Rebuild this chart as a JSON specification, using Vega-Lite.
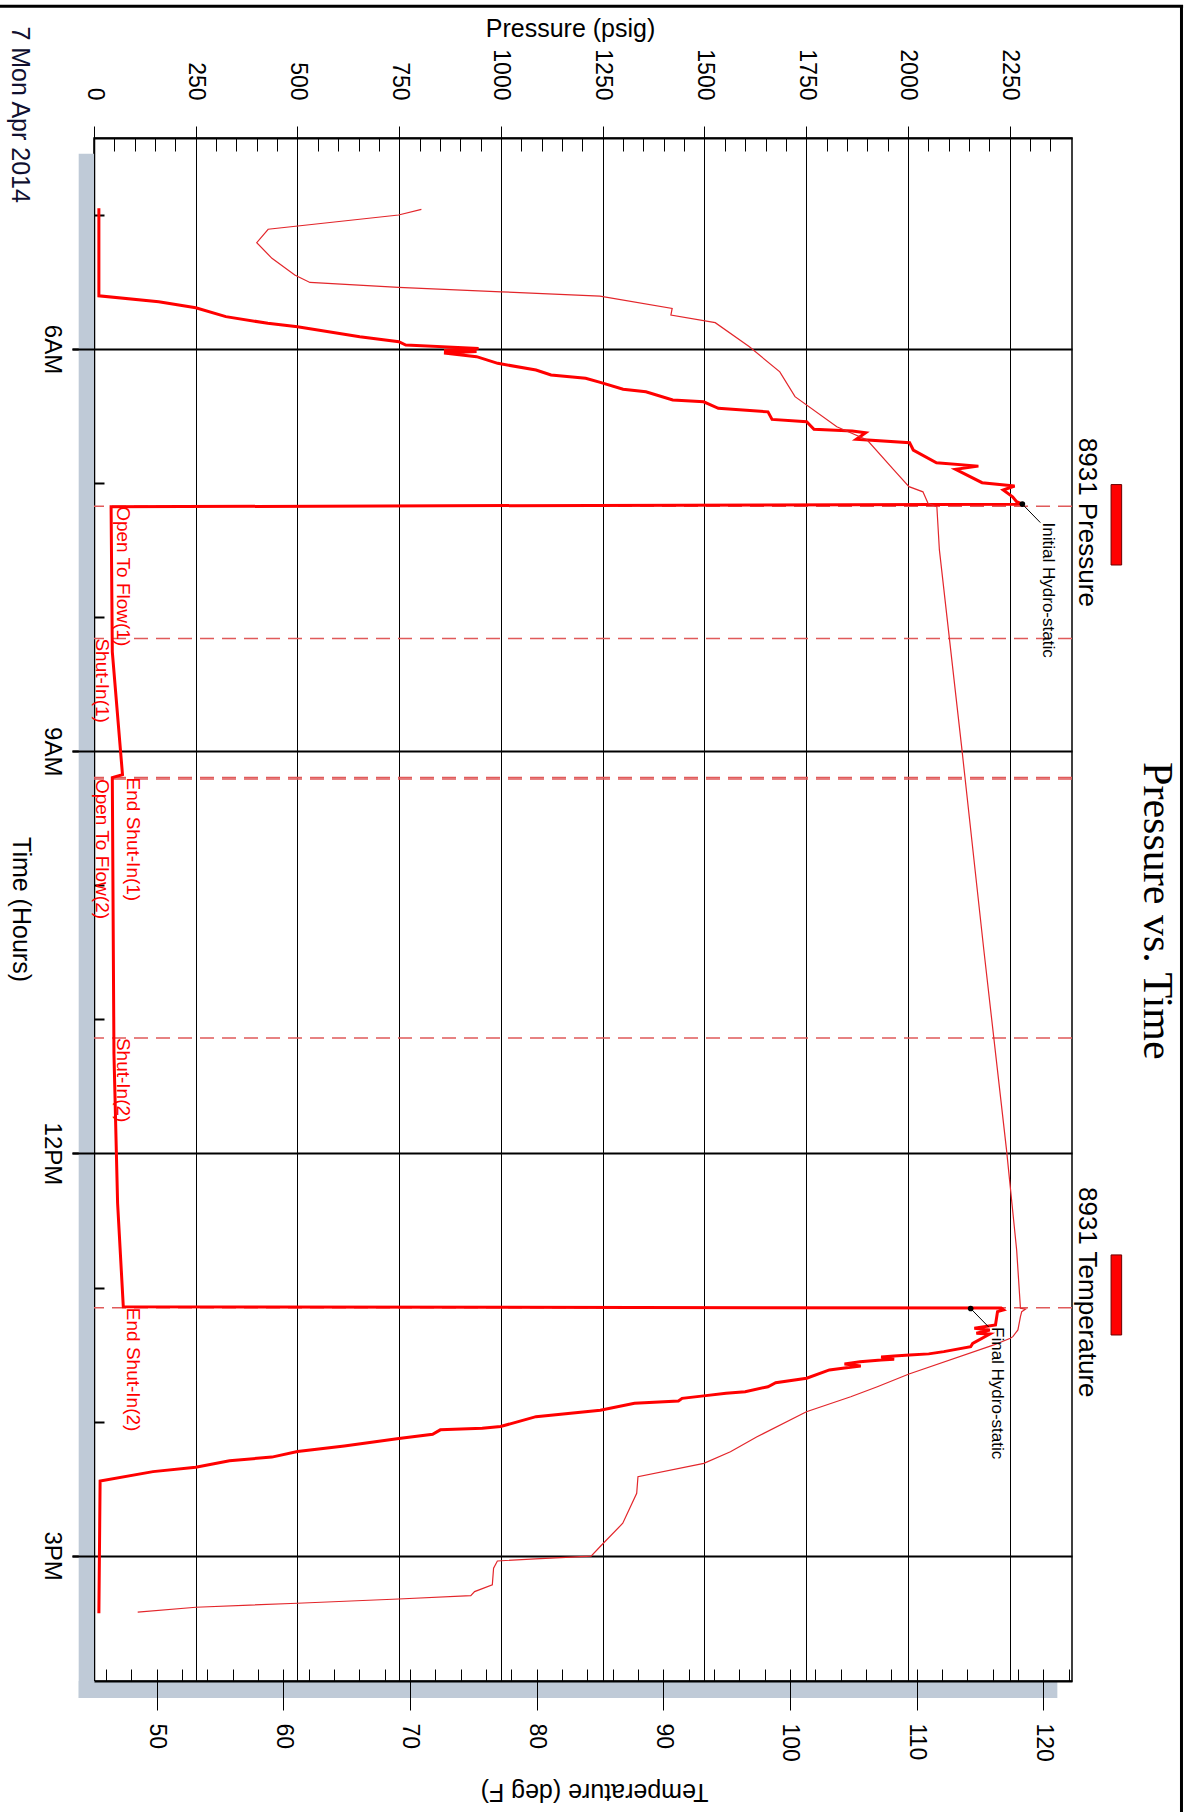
{
  "$schema": "https://vega.github.io/schema/vega-lite/v6.json",
  "width": 978,
  "height": 1543,
  "autosize": {"type": "none"},
  "padding": {"left": 94, "top": 138, "right": 127, "bottom": 131},
  "background": "white",
  "datasets": {
    "pressure": [
      {"t": "2014-04-07T04:57:00", "p": 12},
      {"t": "2014-04-07T05:36:12", "p": 12},
      {"t": "2014-04-07T05:38:48", "p": 159},
      {"t": "2014-04-07T05:41:30", "p": 250},
      {"t": "2014-04-07T05:45:30", "p": 324},
      {"t": "2014-04-07T05:48:30", "p": 427},
      {"t": "2014-04-07T05:50:00", "p": 500},
      {"t": "2014-04-07T05:54:30", "p": 653},
      {"t": "2014-04-07T05:56:42", "p": 749},
      {"t": "2014-04-07T05:58:12", "p": 766},
      {"t": "2014-04-07T05:59:42", "p": 945},
      {"t": "2014-04-07T06:00:40", "p": 860},
      {"t": "2014-04-07T06:01:07", "p": 940},
      {"t": "2014-04-07T06:01:48", "p": 860},
      {"t": "2014-04-07T06:03:24", "p": 940},
      {"t": "2014-04-07T06:06:24", "p": 992},
      {"t": "2014-04-07T06:09:24", "p": 1086},
      {"t": "2014-04-07T06:11:36", "p": 1123},
      {"t": "2014-04-07T06:13:06", "p": 1208},
      {"t": "2014-04-07T06:14:54", "p": 1244},
      {"t": "2014-04-07T06:18:00", "p": 1300},
      {"t": "2014-04-07T06:19:06", "p": 1356},
      {"t": "2014-04-07T06:22:48", "p": 1422},
      {"t": "2014-04-07T06:23:36", "p": 1498},
      {"t": "2014-04-07T06:26:30", "p": 1534},
      {"t": "2014-04-07T06:28:06", "p": 1656},
      {"t": "2014-04-07T06:31:30", "p": 1666},
      {"t": "2014-04-07T06:32:30", "p": 1751},
      {"t": "2014-04-07T06:35:54", "p": 1769},
      {"t": "2014-04-07T06:36:42", "p": 1863},
      {"t": "2014-04-07T06:37:30", "p": 1896},
      {"t": "2014-04-07T06:40:24", "p": 1873},
      {"t": "2014-04-07T06:41:54", "p": 2004},
      {"t": "2014-04-07T06:45:12", "p": 2013},
      {"t": "2014-04-07T06:50:54", "p": 2070},
      {"t": "2014-04-07T06:52:24", "p": 2173},
      {"t": "2014-04-07T06:53:48", "p": 2117},
      {"t": "2014-04-07T06:59:48", "p": 2182},
      {"t": "2014-04-07T07:01:18", "p": 2262},
      {"t": "2014-04-07T07:03:06", "p": 2234},
      {"t": "2014-04-07T07:06:06", "p": 2257},
      {"t": "2014-04-07T07:08:18", "p": 2267},
      {"t": "2014-04-07T07:09:24", "p": 2281},
      {"t": "2014-04-07T07:10:36", "p": 42},
      {"t": "2014-04-07T08:15:30", "p": 45},
      {"t": "2014-04-07T09:10:30", "p": 70},
      {"t": "2014-04-07T09:11:48", "p": 45},
      {"t": "2014-04-07T11:15:18", "p": 49},
      {"t": "2014-04-07T12:22:18", "p": 58},
      {"t": "2014-04-07T13:08:36", "p": 72},
      {"t": "2014-04-07T13:09:12", "p": 2229},
      {"t": "2014-04-07T13:10:00", "p": 2235},
      {"t": "2014-04-07T13:10:48", "p": 2220},
      {"t": "2014-04-07T13:16:48", "p": 2215},
      {"t": "2014-04-07T13:18:12", "p": 2163},
      {"t": "2014-04-07T13:19:00", "p": 2201},
      {"t": "2014-04-07T13:20:30", "p": 2168},
      {"t": "2014-04-07T13:20:48", "p": 2201},
      {"t": "2014-04-07T13:25:00", "p": 2159},
      {"t": "2014-04-07T13:26:30", "p": 2154},
      {"t": "2014-04-07T13:28:42", "p": 2088},
      {"t": "2014-04-07T13:29:42", "p": 2051},
      {"t": "2014-04-07T13:30:12", "p": 2004},
      {"t": "2014-04-07T13:30:36", "p": 1966},
      {"t": "2014-04-07T13:31:06", "p": 1934},
      {"t": "2014-04-07T13:32:06", "p": 1966},
      {"t": "2014-04-07T13:32:24", "p": 1934},
      {"t": "2014-04-07T13:33:12", "p": 1882},
      {"t": "2014-04-07T13:34:12", "p": 1844},
      {"t": "2014-04-07T13:35:06", "p": 1884},
      {"t": "2014-04-07T13:36:00", "p": 1844},
      {"t": "2014-04-07T13:36:54", "p": 1807},
      {"t": "2014-04-07T13:40:36", "p": 1751},
      {"t": "2014-04-07T13:42:36", "p": 1675},
      {"t": "2014-04-07T13:44:24", "p": 1656},
      {"t": "2014-04-07T13:46:36", "p": 1600},
      {"t": "2014-04-07T13:47:18", "p": 1553},
      {"t": "2014-04-07T13:48:30", "p": 1498},
      {"t": "2014-04-07T13:49:36", "p": 1445},
      {"t": "2014-04-07T13:50:48", "p": 1436},
      {"t": "2014-04-07T13:51:48", "p": 1328},
      {"t": "2014-04-07T13:54:54", "p": 1244},
      {"t": "2014-04-07T13:57:48", "p": 1086},
      {"t": "2014-04-07T14:02:12", "p": 999},
      {"t": "2014-04-07T14:03:00", "p": 954},
      {"t": "2014-04-07T14:03:42", "p": 851},
      {"t": "2014-04-07T14:05:42", "p": 832},
      {"t": "2014-04-07T14:07:36", "p": 749},
      {"t": "2014-04-07T14:10:54", "p": 615},
      {"t": "2014-04-07T14:13:24", "p": 500},
      {"t": "2014-04-07T14:15:54", "p": 437},
      {"t": "2014-04-07T14:17:30", "p": 333},
      {"t": "2014-04-07T14:20:24", "p": 250},
      {"t": "2014-04-07T14:22:24", "p": 145},
      {"t": "2014-04-07T14:26:36", "p": 15},
      {"t": "2014-04-07T15:25:48", "p": 12}
    ],
    "temperature": [
      {"t": "2014-04-07T04:57:30", "temp": 70.9},
      {"t": "2014-04-07T05:00:00", "temp": 69.1},
      {"t": "2014-04-07T05:06:24", "temp": 58.8},
      {"t": "2014-04-07T05:12:24", "temp": 57.9},
      {"t": "2014-04-07T05:19:24", "temp": 59.1},
      {"t": "2014-04-07T05:26:54", "temp": 60.9},
      {"t": "2014-04-07T05:30:12", "temp": 62.1},
      {"t": "2014-04-07T05:32:24", "temp": 69.1},
      {"t": "2014-04-07T05:34:24", "temp": 77.2},
      {"t": "2014-04-07T05:36:18", "temp": 85.0},
      {"t": "2014-04-07T05:41:48", "temp": 90.7},
      {"t": "2014-04-07T05:44:48", "temp": 90.6},
      {"t": "2014-04-07T05:48:12", "temp": 94.1},
      {"t": "2014-04-07T05:59:00", "temp": 96.8},
      {"t": "2014-04-07T06:10:12", "temp": 99.2},
      {"t": "2014-04-07T06:21:18", "temp": 100.4},
      {"t": "2014-04-07T06:34:48", "temp": 103.7},
      {"t": "2014-04-07T06:40:42", "temp": 106.1},
      {"t": "2014-04-07T06:54:06", "temp": 108.2},
      {"t": "2014-04-07T07:01:36", "temp": 109.4},
      {"t": "2014-04-07T07:03:54", "temp": 110.5},
      {"t": "2014-04-07T07:09:00", "temp": 110.9},
      {"t": "2014-04-07T07:10:36", "temp": 111.6},
      {"t": "2014-04-07T07:29:54", "temp": 111.8},
      {"t": "2014-04-07T09:00:18", "temp": 113.6},
      {"t": "2014-04-07T10:28:30", "temp": 115.3},
      {"t": "2014-04-07T11:58:24", "temp": 117.1},
      {"t": "2014-04-07T12:43:12", "temp": 117.9},
      {"t": "2014-04-07T13:09:18", "temp": 118.2},
      {"t": "2014-04-07T13:09:42", "temp": 118.6},
      {"t": "2014-04-07T13:10:48", "temp": 118.3},
      {"t": "2014-04-07T13:13:00", "temp": 118.2},
      {"t": "2014-04-07T13:19:00", "temp": 118.0},
      {"t": "2014-04-07T13:22:00", "temp": 117.6},
      {"t": "2014-04-07T13:22:42", "temp": 117.4},
      {"t": "2014-04-07T13:25:42", "temp": 116.1},
      {"t": "2014-04-07T13:38:42", "temp": 109.4},
      {"t": "2014-04-07T13:44:24", "temp": 106.9},
      {"t": "2014-04-07T13:48:54", "temp": 104.8},
      {"t": "2014-04-07T13:55:36", "temp": 101.3},
      {"t": "2014-04-07T14:06:48", "temp": 97.4},
      {"t": "2014-04-07T14:13:30", "temp": 95.3},
      {"t": "2014-04-07T14:18:42", "temp": 93.2},
      {"t": "2014-04-07T14:24:42", "temp": 88.0},
      {"t": "2014-04-07T14:32:06", "temp": 87.9},
      {"t": "2014-04-07T14:45:30", "temp": 86.8},
      {"t": "2014-04-07T14:56:00", "temp": 85.0},
      {"t": "2014-04-07T15:00:12", "temp": 84.3},
      {"t": "2014-04-07T15:01:24", "temp": 79.9},
      {"t": "2014-04-07T15:02:24", "temp": 76.9},
      {"t": "2014-04-07T15:05:36", "temp": 76.6},
      {"t": "2014-04-07T15:13:06", "temp": 76.5},
      {"t": "2014-04-07T15:16:06", "temp": 75.1},
      {"t": "2014-04-07T15:17:54", "temp": 74.8},
      {"t": "2014-04-07T15:19:24", "temp": 69.1},
      {"t": "2014-04-07T15:21:18", "temp": 61.1},
      {"t": "2014-04-07T15:23:06", "temp": 53.1},
      {"t": "2014-04-07T15:25:18", "temp": 48.5}
    ],
    "events": [
      {"event": "Open To Flow(1)", "t": "2014-04-07T07:10:18"},
      {"event": "Shut-In(1)", "t": "2014-04-07T08:09:30"},
      {"event": "End Shut-In(1)", "t": "2014-04-07T09:11:48"},
      {"event": "Open To Flow(2)", "t": "2014-04-07T09:12:24"},
      {"event": "Shut-In(2)", "t": "2014-04-07T11:08:18"},
      {"event": "End Shut-In(2)", "t": "2014-04-07T13:09:06"}
    ],
    "hydro": [
      {"label": "Initial Hydro-static", "t": "2014-04-07T07:09:24", "p": 2281},
      {"label": "Final Hydro-static", "t": "2014-04-07T13:09:24", "p": 2154}
    ]
  },
  "resolve": {"scale": {"x": "independent"}, "axis": {"x": "independent", "y": "independent"}},
  "layer": [
    {
      "data": {"values": [{}]},
      "mark": {"type": "rect", "color": "#bfcad7"},
      "encoding": {
        "x": {"datum": -37.6, "type": "quantitative", "scale": {"domain": [0, 2403], "nice": false, "zero": false},
          "axis": {"orient": "top", "values": [50,100,150,200,300,350,400,450,550,600,650,700,800,850,900,950,1050,1100,1150,1200,1300,1350,1400,1450,1550,1600,1650,1700,1800,1850,1900,1950,2050,2100,2150,2200,2300,2350], "tickSize": -13, "tickWidth": 1, "labels": false, "domain": false, "grid": false, "title": null}},
        "x2": {"datum": 0},
        "y": {"datum": {"year": 2014, "month": 4, "date": 7, "hours": 4, "minutes": 32, "seconds": 35}, "type": "temporal",
          "scale": {"domain": [{"year": 2014, "month": 4, "date": 7, "hours": 4, "minutes": 25, "seconds": 33}, {"year": 2014, "month": 4, "date": 7, "hours": 15, "minutes": 56, "seconds": 6}], "reverse": true, "nice": false},
          "axis": {"orient": "left", "values": [
            {"year": 2014, "month": 4, "date": 7, "hours": 5},
            {"year": 2014, "month": 4, "date": 7, "hours": 7},
            {"year": 2014, "month": 4, "date": 7, "hours": 8},
            {"year": 2014, "month": 4, "date": 7, "hours": 10},
            {"year": 2014, "month": 4, "date": 7, "hours": 11},
            {"year": 2014, "month": 4, "date": 7, "hours": 13},
            {"year": 2014, "month": 4, "date": 7, "hours": 14}
          ], "tickSize": -10, "tickWidth": 2, "labels": false, "domain": false, "grid": false, "title": null}},
        "y2": {"datum": {"year": 2014, "month": 4, "date": 7, "hours": 16, "minutes": 3, "seconds": 43}}
      }
    },
    {
      "data": {"values": [{}]},
      "mark": {"type": "rect", "color": "#bfcad7"},
      "encoding": {
        "x": {"datum": -37.6, "type": "quantitative", "scale": {"domain": [0, 2403], "nice": false, "zero": false}, "axis": null},
        "x2": {"datum": 2367},
        "y": {"datum": {"year": 2014, "month": 4, "date": 7, "hours": 15, "minutes": 56, "seconds": 6}, "type": "temporal",
          "scale": {"domain": [{"year": 2014, "month": 4, "date": 7, "hours": 4, "minutes": 25, "seconds": 33}, {"year": 2014, "month": 4, "date": 7, "hours": 15, "minutes": 56, "seconds": 6}], "reverse": true, "nice": false},
          "axis": {"orient": "left", "values": [
            {"year": 2014, "month": 4, "date": 7, "hours": 6},
            {"year": 2014, "month": 4, "date": 7, "hours": 9},
            {"year": 2014, "month": 4, "date": 7, "hours": 12},
            {"year": 2014, "month": 4, "date": 7, "hours": 15}
          ], "tickSize": 22, "tickWidth": 2, "labels": false, "domain": false, "grid": false, "title": null, "zindex": 1}},
        "y2": {"datum": {"year": 2014, "month": 4, "date": 7, "hours": 16, "minutes": 3, "seconds": 43}}
      }
    },
    {
      "data": {"name": "events"},
      "mark": {"type": "rule", "color": "#e05a5a", "strokeWidth": 1.5, "strokeDash": [14, 8]},
      "encoding": {
        "y": {"field": "t", "type": "temporal",
          "scale": {"domain": [{"year": 2014, "month": 4, "date": 7, "hours": 4, "minutes": 25, "seconds": 33}, {"year": 2014, "month": 4, "date": 7, "hours": 15, "minutes": 56, "seconds": 6}], "reverse": true, "nice": false},
          "axis": null}
      }
    },
    {
      "data": {"name": "pressure"},
      "mark": {"type": "line", "color": "#ff0000", "strokeWidth": 3},
      "encoding": {
        "x": {"field": "p", "type": "quantitative", "scale": {"domain": [0, 2403], "nice": false, "zero": false},
          "axis": {"orient": "top", "values": [0,250,500,750,1000,1250,1500,1750,2000,2250], "format": "d", "tickSize": 12, "tickWidth": 1, "labelAngle": 90, "labelAlign": "right", "labelBaseline": "middle", "labelPadding": 26, "labelFontSize": 23, "grid": true, "gridWidth": 1, "domain": true, "domainWidth": 2, "title": "Pressure (psig)", "titleAngle": 0, "titleX": 476, "titleY": -110, "titleAlign": "center", "titleBaseline": "middle", "titleFontSize": 25}},
        "y": {"field": "t", "type": "temporal",
          "scale": {"domain": [{"year": 2014, "month": 4, "date": 7, "hours": 4, "minutes": 25, "seconds": 33}, {"year": 2014, "month": 4, "date": 7, "hours": 15, "minutes": 56, "seconds": 6}], "reverse": true, "nice": false},
          "axis": {"orient": "left", "values": [
            {"year": 2014, "month": 4, "date": 7, "hours": 6},
            {"year": 2014, "month": 4, "date": 7, "hours": 9},
            {"year": 2014, "month": 4, "date": 7, "hours": 12},
            {"year": 2014, "month": 4, "date": 7, "hours": 15}
          ], "format": "%-I%p", "formatType": "time", "tickSize": 22, "tickWidth": 2, "labelAngle": 90, "labelAlign": "center", "labelBaseline": "top", "labelPadding": 9, "labelFontSize": 24, "grid": true, "gridWidth": 2, "domain": true, "domainWidth": 1.5, "title": "Time (Hours)", "titleAngle": 90, "titleX": -74, "titleY": 771, "titleAlign": "center", "titleBaseline": "middle", "titleFontSize": 25}},
        "order": {"field": "t", "type": "temporal"}
      }
    },
    {
      "data": {"name": "temperature"},
      "mark": {"type": "line", "color": "#e3262b", "strokeWidth": 1.2},
      "encoding": {
        "x": {"field": "temp", "type": "quantitative", "scale": {"domain": [45.05, 122.27], "nice": false, "zero": false},
          "axis": {"orient": "bottom", "values": [50,60,70,80,90,100,110,120], "tickSize": 29, "tickWidth": 1, "labelAngle": 90, "labelAlign": "left", "labelBaseline": "middle", "labelPadding": 13, "labelFontSize": 23, "grid": false, "domain": true, "domainWidth": 2, "zindex": 1, "title": "Temperature (deg F)", "titleAngle": 180, "titleX": 500, "titleY": 110, "titleAlign": "center", "titleBaseline": "middle", "titleFontSize": 25}},
        "y": {"field": "t", "type": "temporal",
          "scale": {"domain": [{"year": 2014, "month": 4, "date": 7, "hours": 4, "minutes": 25, "seconds": 33}, {"year": 2014, "month": 4, "date": 7, "hours": 15, "minutes": 56, "seconds": 6}], "reverse": true, "nice": false},
          "axis": null},
        "order": {"field": "t", "type": "temporal"}
      }
    },
    {
      "data": {"name": "temperature"},
      "mark": {"type": "line", "opacity": 0},
      "encoding": {
        "x": {"field": "temp", "type": "quantitative", "scale": {"domain": [45.05, 122.27], "nice": false, "zero": false},
          "axis": {"orient": "bottom", "values": [46,48,50,52,54,56,58,60,62,64,66,68,70,72,74,76,78,80,82,84,86,88,90,92,94,96,98,100,102,104,106,108,110,112,114,116,118,120,122], "tickSize": -12, "tickWidth": 1, "labels": false, "domain": false, "grid": false, "title": null}},
        "y": {"field": "t", "type": "temporal",
          "scale": {"domain": [{"year": 2014, "month": 4, "date": 7, "hours": 4, "minutes": 25, "seconds": 33}, {"year": 2014, "month": 4, "date": 7, "hours": 15, "minutes": 56, "seconds": 6}], "reverse": true, "nice": false},
          "axis": null},
        "order": {"field": "t", "type": "temporal"}
      }
    },
    {
      "data": {"name": "events"},
      "transform": [{"filter": "datum.event == 'Open To Flow(1)' || datum.event == 'Shut-In(2)'"}],
      "mark": {"type": "text", "angle": 90, "align": "left", "baseline": "middle", "fontSize": 19, "color": "#ff0000"},
      "encoding": {
        "x": {"datum": 71, "type": "quantitative", "scale": {"domain": [0, 2403], "nice": false, "zero": false}, "axis": null},
        "y": {"field": "t", "type": "temporal",
          "scale": {"domain": [{"year": 2014, "month": 4, "date": 7, "hours": 4, "minutes": 25, "seconds": 33}, {"year": 2014, "month": 4, "date": 7, "hours": 15, "minutes": 56, "seconds": 6}], "reverse": true, "nice": false},
          "axis": null},
        "text": {"field": "event"}
      }
    },
    {
      "data": {"name": "events"},
      "transform": [{"filter": "datum.event == 'Shut-In(1)' || datum.event == 'Open To Flow(2)'"}],
      "mark": {"type": "text", "angle": 90, "align": "left", "baseline": "middle", "fontSize": 19, "color": "#ff0000"},
      "encoding": {
        "x": {"datum": 19, "type": "quantitative", "scale": {"domain": [0, 2403], "nice": false, "zero": false}, "axis": null},
        "y": {"field": "t", "type": "temporal",
          "scale": {"domain": [{"year": 2014, "month": 4, "date": 7, "hours": 4, "minutes": 25, "seconds": 33}, {"year": 2014, "month": 4, "date": 7, "hours": 15, "minutes": 56, "seconds": 6}], "reverse": true, "nice": false},
          "axis": null},
        "text": {"field": "event"}
      }
    },
    {
      "data": {"name": "events"},
      "transform": [{"filter": "datum.event == 'End Shut-In(1)' || datum.event == 'End Shut-In(2)'"}],
      "mark": {"type": "text", "angle": 90, "align": "left", "baseline": "middle", "fontSize": 19, "color": "#ff0000"},
      "encoding": {
        "x": {"datum": 97, "type": "quantitative", "scale": {"domain": [0, 2403], "nice": false, "zero": false}, "axis": null},
        "y": {"field": "t", "type": "temporal",
          "scale": {"domain": [{"year": 2014, "month": 4, "date": 7, "hours": 4, "minutes": 25, "seconds": 33}, {"year": 2014, "month": 4, "date": 7, "hours": 15, "minutes": 56, "seconds": 6}], "reverse": true, "nice": false},
          "axis": null},
        "text": {"field": "event"}
      }
    },
    {
      "data": {"name": "hydro"},
      "mark": {"type": "rule", "color": "black", "strokeWidth": 1, "x2Offset": 18, "y2Offset": 18.5},
      "encoding": {
        "x": {"field": "p", "type": "quantitative", "scale": {"domain": [0, 2403], "nice": false, "zero": false}, "axis": null},
        "x2": {"field": "p"},
        "y": {"field": "t", "type": "temporal",
          "scale": {"domain": [{"year": 2014, "month": 4, "date": 7, "hours": 4, "minutes": 25, "seconds": 33}, {"year": 2014, "month": 4, "date": 7, "hours": 15, "minutes": 56, "seconds": 6}], "reverse": true, "nice": false},
          "axis": null},
        "y2": {"field": "t"}
      }
    },
    {
      "data": {"name": "hydro"},
      "mark": {"type": "point", "filled": true, "color": "black", "size": 32, "opacity": 1},
      "encoding": {
        "x": {"field": "p", "type": "quantitative", "scale": {"domain": [0, 2403], "nice": false, "zero": false}, "axis": null},
        "y": {"field": "t", "type": "temporal",
          "scale": {"domain": [{"year": 2014, "month": 4, "date": 7, "hours": 4, "minutes": 25, "seconds": 33}, {"year": 2014, "month": 4, "date": 7, "hours": 15, "minutes": 56, "seconds": 6}], "reverse": true, "nice": false},
          "axis": null}
      }
    },
    {
      "data": {"name": "hydro"},
      "mark": {"type": "text", "angle": 90, "align": "left", "baseline": "middle", "fontSize": 17, "color": "black", "xOffset": 26, "yOffset": 18.5},
      "encoding": {
        "x": {"field": "p", "type": "quantitative", "scale": {"domain": [0, 2403], "nice": false, "zero": false}, "axis": null},
        "y": {"field": "t", "type": "temporal",
          "scale": {"domain": [{"year": 2014, "month": 4, "date": 7, "hours": 4, "minutes": 25, "seconds": 33}, {"year": 2014, "month": 4, "date": 7, "hours": 15, "minutes": 56, "seconds": 6}], "reverse": true, "nice": false},
          "axis": null},
        "text": {"field": "label"}
      }
    },
    {
      "data": {"values": [{}]},
      "mark": {"type": "text", "text": "8931 Pressure", "angle": 90, "align": "left", "baseline": "middle", "fontSize": 26, "color": "black"},
      "encoding": {
        "x": {"datum": 2441, "type": "quantitative", "scale": {"domain": [0, 2403], "nice": false, "zero": false}, "axis": null},
        "y": {"datum": {"year": 2014, "month": 4, "date": 7, "hours": 6, "minutes": 39, "seconds": 42}, "type": "temporal",
          "scale": {"domain": [{"year": 2014, "month": 4, "date": 7, "hours": 4, "minutes": 25, "seconds": 33}, {"year": 2014, "month": 4, "date": 7, "hours": 15, "minutes": 56, "seconds": 6}], "reverse": true, "nice": false},
          "axis": null}
      }
    },
    {
      "data": {"values": [{}]},
      "mark": {"type": "rect", "color": "#ff0000", "stroke": "#6a0000", "strokeWidth": 1},
      "encoding": {
        "x": {"datum": 2499, "type": "quantitative", "scale": {"domain": [0, 2403], "nice": false, "zero": false}, "axis": null},
        "x2": {"datum": 2525},
        "y": {"datum": {"year": 2014, "month": 4, "date": 7, "hours": 7, "minutes": 0, "seconds": 39}, "type": "temporal",
          "scale": {"domain": [{"year": 2014, "month": 4, "date": 7, "hours": 4, "minutes": 25, "seconds": 33}, {"year": 2014, "month": 4, "date": 7, "hours": 15, "minutes": 56, "seconds": 6}], "reverse": true, "nice": false},
          "axis": null},
        "y2": {"datum": {"year": 2014, "month": 4, "date": 7, "hours": 7, "minutes": 36, "seconds": 39}}
      }
    },
    {
      "data": {"values": [{}]},
      "mark": {"type": "text", "text": "8931 Temperature", "angle": 90, "align": "left", "baseline": "middle", "fontSize": 26, "color": "black"},
      "encoding": {
        "x": {"datum": 2441, "type": "quantitative", "scale": {"domain": [0, 2403], "nice": false, "zero": false}, "axis": null},
        "y": {"datum": {"year": 2014, "month": 4, "date": 7, "hours": 12, "minutes": 15, "seconds": 0}, "type": "temporal",
          "scale": {"domain": [{"year": 2014, "month": 4, "date": 7, "hours": 4, "minutes": 25, "seconds": 33}, {"year": 2014, "month": 4, "date": 7, "hours": 15, "minutes": 56, "seconds": 6}], "reverse": true, "nice": false},
          "axis": null}
      }
    },
    {
      "data": {"values": [{}]},
      "mark": {"type": "rect", "color": "#ff0000", "stroke": "#6a0000", "strokeWidth": 1},
      "encoding": {
        "x": {"datum": 2499, "type": "quantitative", "scale": {"domain": [0, 2403], "nice": false, "zero": false}, "axis": null},
        "x2": {"datum": 2525},
        "y": {"datum": {"year": 2014, "month": 4, "date": 7, "hours": 12, "minutes": 45, "seconds": 25}, "type": "temporal",
          "scale": {"domain": [{"year": 2014, "month": 4, "date": 7, "hours": 4, "minutes": 25, "seconds": 33}, {"year": 2014, "month": 4, "date": 7, "hours": 15, "minutes": 56, "seconds": 6}], "reverse": true, "nice": false},
          "axis": null},
        "y2": {"datum": {"year": 2014, "month": 4, "date": 7, "hours": 13, "minutes": 21, "seconds": 15}}
      }
    },
    {
      "data": {"values": [{}]},
      "mark": {"type": "text", "text": "Pressure vs. Time", "angle": 90, "align": "center", "baseline": "middle", "font": "Liberation Serif", "fontSize": 42, "color": "black"},
      "encoding": {
        "x": {"datum": 2613, "type": "quantitative", "scale": {"domain": [0, 2403], "nice": false, "zero": false}, "axis": null},
        "y": {"datum": {"year": 2014, "month": 4, "date": 7, "hours": 10, "minutes": 11, "seconds": 26}, "type": "temporal",
          "scale": {"domain": [{"year": 2014, "month": 4, "date": 7, "hours": 4, "minutes": 25, "seconds": 33}, {"year": 2014, "month": 4, "date": 7, "hours": 15, "minutes": 56, "seconds": 6}], "reverse": true, "nice": false},
          "axis": null}
      }
    },
    {
      "data": {"values": [{}]},
      "mark": {"type": "text", "text": "7 Mon Apr 2014", "angle": 90, "align": "left", "baseline": "middle", "fontSize": 25, "color": "#101030"},
      "encoding": {
        "x": {"datum": -181, "type": "quantitative", "scale": {"domain": [0, 2403], "nice": false, "zero": false}, "axis": null},
        "y": {"datum": {"year": 2014, "month": 4, "date": 7, "hours": 3, "minutes": 35, "seconds": 36}, "type": "temporal",
          "scale": {"domain": [{"year": 2014, "month": 4, "date": 7, "hours": 4, "minutes": 25, "seconds": 33}, {"year": 2014, "month": 4, "date": 7, "hours": 15, "minutes": 56, "seconds": 6}], "reverse": true, "nice": false},
          "axis": null}
      }
    },
    {
      "data": {"values": [{}]},
      "mark": {"type": "rule", "color": "black", "strokeWidth": 3},
      "encoding": {
        "x": {"datum": -231, "type": "quantitative", "scale": {"domain": [0, 2403], "nice": false, "zero": false}, "axis": null},
        "x2": {"datum": 2676},
        "y": {"datum": {"year": 2014, "month": 4, "date": 7, "hours": 3, "minutes": 26, "seconds": 38}, "type": "temporal",
          "scale": {"domain": [{"year": 2014, "month": 4, "date": 7, "hours": 4, "minutes": 25, "seconds": 33}, {"year": 2014, "month": 4, "date": 7, "hours": 15, "minutes": 56, "seconds": 6}], "reverse": true, "nice": false},
          "axis": null}
      }
    },
    {
      "data": {"values": [{}]},
      "mark": {"type": "rule", "color": "black", "strokeWidth": 3},
      "encoding": {
        "x": {"datum": 2672, "type": "quantitative", "scale": {"domain": [0, 2403], "nice": false, "zero": false}, "axis": null},
        "y": {"datum": {"year": 2014, "month": 4, "date": 7, "hours": 3, "minutes": 26, "seconds": 38}, "type": "temporal",
          "scale": {"domain": [{"year": 2014, "month": 4, "date": 7, "hours": 4, "minutes": 25, "seconds": 33}, {"year": 2014, "month": 4, "date": 7, "hours": 15, "minutes": 56, "seconds": 6}], "reverse": true, "nice": false},
          "axis": null},
        "y2": {"datum": {"year": 2014, "month": 4, "date": 7, "hours": 16, "minutes": 54, "seconds": 45}}
      }
    }
  ],
  "config": {
    "view": {"stroke": "black", "strokeWidth": 1.5},
    "axis": {"labelFont": "Liberation Sans", "titleFont": "Liberation Sans", "labelColor": "black", "titleColor": "black", "tickColor": "black", "domainColor": "black", "gridColor": "black", "gridOpacity": 1, "labelFlush": false, "labelOverlap": false, "labelBound": false, "titleFontWeight": "normal"},
    "text": {"font": "Liberation Sans"}
  }
}
